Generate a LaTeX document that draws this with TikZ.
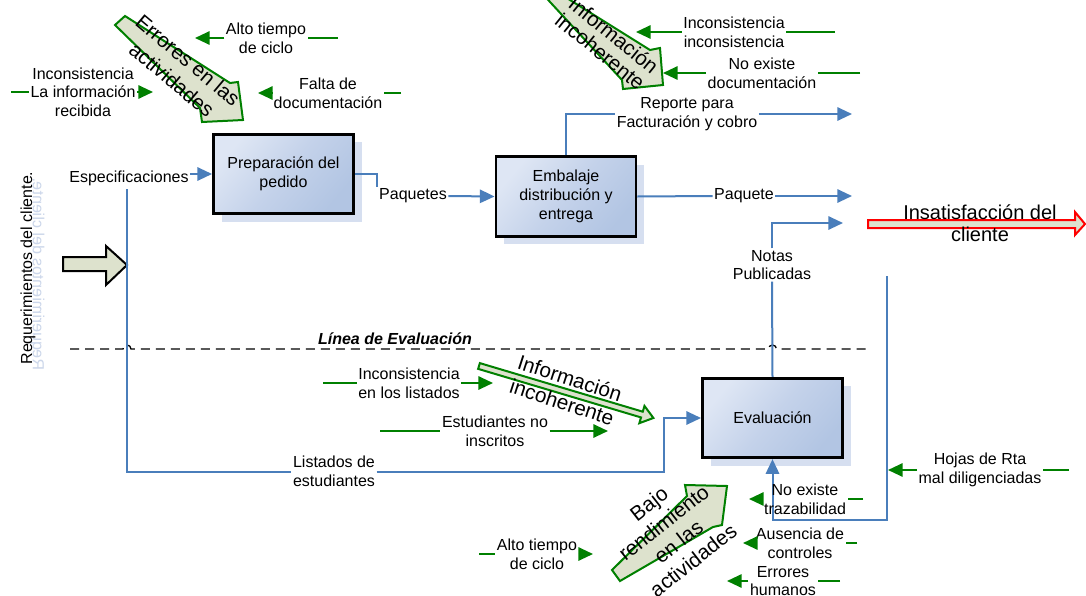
\documentclass[tikz,border=0pt]{standalone}
\usepackage{fontspec}
\setmainfont{Liberation Sans}
\usetikzlibrary{arrows.meta,shadows}

\definecolor{flowblue}{RGB}{74,126,187}
\definecolor{notegreen}{RGB}{0,128,0}
\definecolor{arrowfill}{RGB}{221,226,205}
\definecolor{boxlight}{RGB}{222,230,244}
\definecolor{boxmid}{RGB}{196,210,234}
\definecolor{boxdark}{RGB}{178,197,227}
\definecolor{boxshade}{RGB}{214,223,240}
\definecolor{mirror}{RGB}{203,214,234}

\begin{document}
\begin{tikzpicture}[x=0.75pt,y=-0.75pt,
  lbl/.style={font=\fontsize{12}{14}\selectfont, align=center, inner sep=1pt},
  big/.style={align=center, inner sep=0pt},
  process/.style={draw=black, line width=2.2pt, minimum width=105pt, minimum height=59.5pt,
     left color=boxlight, right color=boxdark, middle color=boxmid, shading angle=50,
     align=center, font=\fontsize{12}{14}\selectfont,
     drop shadow={shadow xshift=6pt, shadow yshift=-6pt, fill=boxshade, opacity=1}},
  flow/.style={draw=flowblue, line width=1.5pt},
  flowarrow/.style={flow, -{Triangle[length=11pt,width=10pt]}},
  note/.style={draw=notegreen, line width=1.5pt},
  notearrow/.style={note, -{Triangle[length=11pt,width=10pt]}},
  fatarrow/.style={draw=notegreen, line width=1.5pt, fill=arrowfill, line join=miter},
]
\useasboundingbox (0,0) rectangle (1086,596);
\fill[white] (0,0) rectangle (1086,596);
\clip (0,0) rectangle (1086,596);

% ---------- process boxes ----------
\node[process] (prep) at (283.5,174) {Preparación del\\pedido};
\node[process] (emb)  at (566,196.5) {Embalaje\\distribución y\\entrega};
\node[process] (eval) at (772.5,418) {Evaluación};

% ---------- block arrows ----------
\draw[fatarrow] (115,25) -- (125,16) -- (230,83) -- (238,82) -- (243,120) -- (202,122) -- (200,108) -- cycle;
\draw[fatarrow] (539,-10) -- (554,-10) -- (650,50) -- (660,48) -- (663,85) -- (623,89) -- (622,80) -- cycle;
\draw[fatarrow] (612,570) -- (620,581) -- (713,527) -- (722,525) -- (727,486) -- (685,485) -- (687,496) -- cycle;
\begin{scope}[shift={(479,366)}, rotate=-16.6]
  \draw[fatarrow] (0,-3) -- (170,-3) -- (170,-9) -- (182,0) -- (170,9) -- (170,3) -- (0,3) -- cycle;
\end{scope}
\draw[draw=black, line width=1.5pt, fill=arrowfill, line join=miter]
  (63,257) -- (106,257) -- (106,246) -- (127,265) -- (106,285) -- (106,271) -- (63,271) -- cycle;
\draw[draw=red, line width=1.5pt, fill=arrowfill, line join=miter]
  (868,220) -- (1075,220) -- (1075,212) -- (1085,224) -- (1075,235) -- (1075,228) -- (868,228) -- cycle;

% ---------- evaluation line ----------
\draw[black, line width=1pt, dash pattern=on 6.75pt off 4.5pt]
  (70,349) -- (123,349) arc[start angle=180, end angle=360, radius=4]
  -- (768.5,349) arc[start angle=180, end angle=360, radius=4] -- (870,349);
\node[font=\fontsize{12}{14}\selectfont\bfseries\itshape] (linea) at (395,339) {Línea de Evaluación};

% ---------- side title ----------
\begin{scope}[shift={(37,274)}]
  \node[rotate=90, yscale=-1, text=mirror, font=\fontsize{12}{14}\selectfont] (reqmirror) at (0,0) {Requerimientos del cliente.};
\end{scope}
\node[rotate=90, font=\fontsize{12}{14}\selectfont] (req) at (28,268) {Requerimientos del cliente.};

% ---------- flow labels ----------
\node[lbl] (spec)  at (129,178) {Especificaciones};
\node[lbl] (paq)   at (413,196) {Paquetes};
\node[lbl] (rep)   at (687,114) {Reporte para\\Facturación y cobro};
\node[lbl] (paq2)  at (744,196) {Paquete};
\node[lbl] (notas) at (772,265) {Notas\\Publicadas};
\node[lbl] (lst)   at (334,471.5) {Listados de\\estudiantes};

\coordinate (bend)   at (377,174);
\coordinate (lstop)  at (127,189);
\coordinate (lsbot)  at (127,471.5);
\coordinate (lsturn) at (664,471.5);
\coordinate (repout) at (852,114);
\coordinate (paqout) at (852,196);
\coordinate (notout) at (843,223);
\coordinate (hojtop) at (887,276);
\coordinate (hojbot) at (887,520);

% ---------- flow connectors ----------
\draw[flowarrow] (spec.east |- prep.west) -- (prep.west);
\draw[flow] (lstop) -- (lsbot) -- (lst.west);
\draw[flowarrow] (lst.east) -- (lsturn) |- (eval.west);
\draw[flow] (prep.east) -- (bend) -- (bend |- paq.north);
\draw[flowarrow] (paq.east) -- (emb.west);
\draw[flow] (emb.north) |- (rep.west);
\draw[flowarrow] (rep.east) -- (repout);
\draw[flow] (emb.east) -- (paq2.west);
\draw[flowarrow] (paq2.east) -- (paqout);
\draw[flow] (eval.north) -- (notas.south);
\draw[flowarrow] (notas.north) |- (notout);
\draw[flowarrow] (hojtop) -- (hojbot) -| (eval.south);

% ---------- problem notes ----------
\node[lbl] (n1)  at (266,38)  {Alto tiempo\\de ciclo};
\node[lbl] (n2)  at (83,92)   {Inconsistencia\\La información\\recibida};
\node[lbl] (n3)  at (328,93)  {Falta de\\documentación};
\node[lbl] (n4)  at (734,32)  {Inconsistencia\\inconsistencia};
\node[lbl] (n5)  at (762,73)  {No existe\\documentación};
\node[lbl] (n6)  at (409,383) {Inconsistencia\\en los listados};
\node[lbl] (n7)  at (495,431) {Estudiantes no\\inscritos};
\node[lbl] (n8)  at (537,554) {Alto tiempo\\de ciclo};
\node[lbl] (n9)  at (805,499) {No existe\\trazabilidad};
\node[lbl] (n10) at (800,543) {Ausencia de\\controles};
\node[lbl] (n11) at (783,581) {Errores\\humanos};
\node[lbl] (n12) at (980,470) {Hojas de Rta\\mal diligenciadas};

\coordinate (e1) at (338,38);   \coordinate (t1) at (195,38);
\coordinate (e2) at (11,92);    \coordinate (t2) at (153,92);
\coordinate (e3) at (401,93);   \coordinate (t3) at (258,93);
\coordinate (e4) at (835,32);   \coordinate (t4) at (636,32);
\coordinate (e5) at (860,73);   \coordinate (t5) at (663,73);
\coordinate (e6) at (323,383);  \coordinate (t6) at (493,383);
\coordinate (e7) at (380,431);  \coordinate (t7) at (608,431);
\coordinate (e8) at (479,554);  \coordinate (t8) at (593,554);
\coordinate (e9) at (863,499);  \coordinate (t9) at (749,499);
\coordinate (e10) at (857,543); \coordinate (t10) at (743,543);
\coordinate (e11) at (840,581); \coordinate (t11) at (727,581);
\coordinate (e12) at (1069,470);\coordinate (t12) at (888,470);

% notes pointing left
\foreach \i in {1,3,4,5,9,10,11,12} {
  \draw[note] (e\i) -- (n\i.east);
  \draw[notearrow] (n\i.west) -- (t\i);
}
% notes pointing right
\foreach \i in {2,6,7,8} {
  \draw[note] (e\i) -- (n\i.west);
  \draw[notearrow] (n\i.east) -- (t\i);
}

% ---------- block arrow captions ----------
\node[big, rotate=-40, font=\fontsize{15.5}{19}\selectfont] (errcap) at (180,70) {Errores en las\\actividades};
\node[big, rotate=-39, font=\fontsize{15.5}{16}\selectfont] (infcap1) at (607,43) {Información\\incoherente};
\node[big, rotate=-18, font=\fontsize{15.5}{19}\selectfont] (infcap2) at (566,390) {Información\\incoherente};
\node[big, rotate=38, font=\fontsize{15.5}{18}\selectfont] (bajcap) at (671,532) {Bajo\\rendimiento\\en las\\actividades};
\node[big, font=\fontsize{15}{16.5}\selectfont] (insat) at (980,223) {Insatisfacción del\\cliente};
\end{tikzpicture}
\end{document}
